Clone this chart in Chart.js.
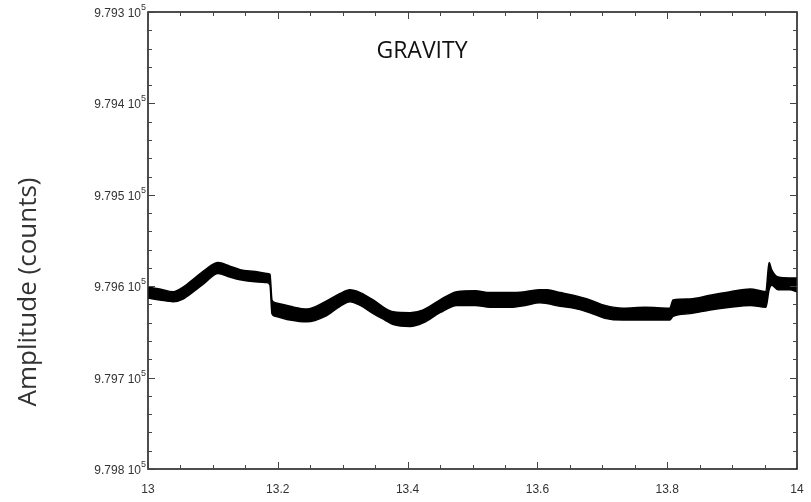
<!DOCTYPE html>
<html>
<head>
<meta charset="utf-8">
<script src="https://cdn.jsdelivr.net/npm/chart.js@4.4.0/dist/chart.umd.min.js"></script>
<style>
  html, body { margin: 0; padding: 0; background: #fff; }
  #wrap { width: 811px; height: 502px; }
</style>
</head>
<body>
<div id="wrap"><canvas id="chart"></canvas></div>
<script>
// time axis (hours) and the edges of the thick gravity trace (counts)
const timeValues = [13.000, 13.018, 13.039, 13.054, 13.072, 13.088, 13.108, 13.126, 13.142, 13.165,
  13.183, 13.188, 13.191, 13.196, 13.219, 13.245, 13.273, 13.296, 13.311, 13.327,
  13.347, 13.365, 13.378, 13.404, 13.424, 13.450, 13.476, 13.504, 13.527, 13.558,
  13.581, 13.604, 13.615, 13.635, 13.655, 13.681, 13.704, 13.732, 13.766, 13.804,
  13.809, 13.835, 13.866, 13.897, 13.928, 13.952, 13.957, 13.961, 13.971, 13.989, 14.000];
const traceTop = [979601, 979603, 979606, 979601, 979591, 979582, 979574, 979578, 979582, 979584,
  979586, 979587, 979615, 979618, 979622, 979625, 979617, 979608, 979604, 979607,
  979615, 979624, 979628, 979629, 979626, 979615, 979606, 979605, 979607, 979607,
  979606, 979604, 979604, 979607, 979610, 979615, 979621, 979624, 979623, 979624,
  979615, 979614, 979610, 979606, 979603, 979606, 979574, 979582, 979590, 979591, 979591];
const traceBottom = [979613, 979615, 979617, 979614, 979605, 979596, 979586, 979590, 979593, 979595,
  979596, 979599, 979630, 979633, 979637, 979639, 979633, 979622, 979617, 979621,
  979630, 979637, 979642, 979644, 979640, 979629, 979621, 979621, 979623, 979623,
  979621, 979618, 979619, 979622, 979624, 979629, 979635, 979637, 979637, 979637,
  979633, 979630, 979626, 979623, 979621, 979623, 979604, 979599, 979604, 979604, 979606];

const xTicks = [13, 13.2, 13.4, 13.6, 13.8, 14];
const xTickLabels = ["13", "13.2", "13.4", "13.6", "13.8", "14"];
const yTicks = [979300, 979400, 979500, 979600, 979700, 979800];
const yTickLabels = ["9.793", "9.794", "9.795", "9.796", "9.797", "9.798"];
const titleText = "GRAVITY";
const yTitleText = "Amplitude (counts)";

const tickFont = "12px 'Liberation Sans', Arial, sans-serif";
const supFont = "9px 'Liberation Sans', Arial, sans-serif";
const textColor = "#333";

// frame, inward ticks on all four sides, labels and titles
const framePlugin = {
  id: "frame",
  afterDraw(chart) {
    const ctx = chart.ctx;
    const a = chart.chartArea;
    const xs = chart.scales.x;
    const ys = chart.scales.y;
    ctx.save();
    ctx.strokeStyle = "#222";
    ctx.lineWidth = 1.6;
    ctx.strokeRect(a.left, a.top, a.right - a.left, a.bottom - a.top);

    ctx.lineWidth = 1;
    ctx.strokeStyle = "#444";
    // x ticks: major every 0.2, minor every 0.05
    for (let i = 0; i < xTicks.length; i++) {
      for (let k = 0; k < 4; k++) {
        if (i === xTicks.length - 1 && k > 0) break;
        const v = xTicks[i] + k * 0.05;
        const px = Math.round(xs.getPixelForValue(v)) + 0.5;
        const len = k === 0 ? 7 : 4;
        ctx.beginPath();
        ctx.moveTo(px, a.bottom); ctx.lineTo(px, a.bottom - len);
        ctx.moveTo(px, a.top); ctx.lineTo(px, a.top + len);
        ctx.stroke();
      }
    }
    // y ticks: major every 100, minor every 20
    for (let i = 0; i < yTicks.length; i++) {
      for (let k = 0; k < 5; k++) {
        if (i === yTicks.length - 1 && k > 0) break;
        const v = yTicks[i] + k * 20;
        const py = Math.round(ys.getPixelForValue(v)) + 0.5;
        const len = k === 0 ? 7 : 4;
        ctx.beginPath();
        ctx.moveTo(a.left, py); ctx.lineTo(a.left + len, py);
        ctx.moveTo(a.right, py); ctx.lineTo(a.right - len, py);
        ctx.stroke();
      }
    }

    ctx.fillStyle = textColor;
    // x labels
    ctx.font = tickFont;
    ctx.textAlign = "center";
    ctx.textBaseline = "middle";
    xTicks.forEach((v, i) => {
      ctx.fillText(xTickLabels[i], xs.getPixelForValue(v), a.bottom + 21);
    });
    // y labels with superscript exponent
    yTicks.forEach((v, i) => {
      const py = ys.getPixelForValue(v);
      ctx.font = supFont;
      const supW = ctx.measureText("5").width;
      ctx.textAlign = "left";
      ctx.textBaseline = "alphabetic";
      const supX = a.left - 2 - supW;
      ctx.fillText("5", supX, py - 2);
      ctx.font = tickFont;
      ctx.textAlign = "right";
      ctx.fillText(yTickLabels[i] + " 10", supX, py + 5);
    });

    // in-plot title
    ctx.font = "23px 'Open Sans', sans-serif";
    ctx.fillStyle = "#111";
    ctx.textAlign = "center";
    ctx.textBaseline = "middle";
    ctx.fillText(titleText, 422, 51);

    // y axis title
    ctx.translate(29, 292);
    ctx.rotate(-Math.PI / 2);
    ctx.font = "26px 'Open Sans', sans-serif";
    ctx.fillStyle = "#333";
    ctx.fillText(yTitleText, 0, 0);
    ctx.restore();
  }
};

const points = (ys) => timeValues.map((t, i) => ({ x: t, y: ys[i] }));

new Chart(document.getElementById("chart"), {
  type: "line",
  data: {
    datasets: [
      {
        data: points(traceTop),
        borderColor: "#000",
        borderWidth: 1.5,
        pointRadius: 0,
        fill: false,
        cubicInterpolationMode: "monotone"
      },
      {
        data: points(traceBottom),
        borderColor: "#000",
        backgroundColor: "#000",
        borderWidth: 1.5,
        pointRadius: 0,
        fill: "-1",
        cubicInterpolationMode: "monotone"
      }
    ]
  },
  options: {
    responsive: true,
    maintainAspectRatio: false,
    animation: false,
    layout: { padding: { left: 148, right: 14, top: 12, bottom: 33 } },
    plugins: {
      legend: { display: false },
      tooltip: { enabled: false },
      filler: { propagate: false }
    },
    scales: {
      x: { type: "linear", min: 13, max: 14, display: false },
      y: { type: "linear", min: 979300, max: 979800, reverse: true, display: false }
    }
  },
  plugins: [framePlugin]
});
</script>
</body>
</html>
